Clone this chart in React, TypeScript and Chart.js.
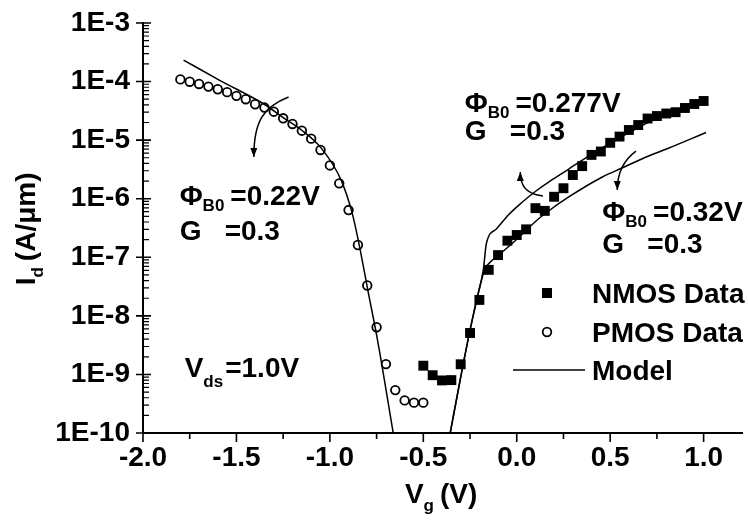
import React, { useEffect, useRef } from "react";
import { Chart, registerables } from "chart.js";

Chart.register(...registerables);

const FONT = '"Liberation Sans", Arial, Helvetica, sans-serif';
const MAIN_FONT = `bold 28px ${FONT}`;
const SUB_FONT = `bold 17px ${FONT}`;

// ---- measured transfer characteristics (Vds = 1.0 V) ----
const pmosVg = [
  -1.8, -1.75, -1.7, -1.65, -1.6, -1.55, -1.5, -1.45, -1.4, -1.35, -1.3, -1.25, -1.2, -1.15,
  -1.1, -1.05, -1.0, -0.95, -0.9, -0.85, -0.8, -0.75, -0.7, -0.65, -0.6, -0.55, -0.5,
];
const pmosId = [
  1.09e-4, 9.95e-5, 9.1e-5, 8.2e-5, 7.4e-5, 6.6e-5, 5.7e-5, 5.0e-5, 4.1e-5, 3.6e-5, 3.06e-5,
  2.36e-5, 1.89e-5, 1.45e-5, 1.06e-5, 6.8e-6, 3.7e-6, 1.83e-6, 6.4e-7, 1.62e-7, 3.3e-8, 6.4e-9,
  1.5e-9, 5.4e-10, 3.6e-10, 3.3e-10, 3.3e-10,
];

const nmosVg = [
  -0.5, -0.45, -0.4, -0.35, -0.3, -0.25, -0.2, -0.15, -0.1, -0.05, 0.0, 0.05, 0.1, 0.15, 0.2,
  0.25, 0.3, 0.35, 0.4, 0.45, 0.5, 0.55, 0.6, 0.65, 0.7, 0.75, 0.8, 0.85, 0.9, 0.95, 1.0,
];
const nmosId = [
  1.41e-9, 9.7e-10, 7.9e-10, 8.0e-10, 1.49e-9, 5.1e-9, 1.87e-8, 6.1e-8, 1.09e-7, 1.92e-7, 2.4e-7,
  3.0e-7, 6.9e-7, 6.2e-7, 1.08e-6, 1.51e-6, 2.54e-6, 3.6e-6, 5.6e-6, 6.4e-6, 9.0e-6, 1.15e-5,
  1.49e-5, 1.81e-5, 2.34e-5, 2.58e-5, 2.85e-5, 3.0e-5, 3.54e-5, 4.14e-5, 4.66e-5,
];

// ---- model curves ----
// PMOS, ΦB0 = 0.22 V, G = 0.3
const pmosModelVg = [-1.783, -1.592, -1.345, -1.248, -1.152, -1.046, -0.94, -0.882, -0.845, -0.797, -0.744, -0.661];
const pmosModelId = [2.33e-4, 1.06e-4, 3.98e-5, 2.39e-5, 1.49e-5, 7.3e-6, 2.08e-6, 5.9e-7, 1.75e-7, 2.76e-8, 3.72e-9, 1e-10];

// NMOS, ΦB0 = 0.277 V, G = 0.3
const nmosModelAVg = [
  -0.356, -0.303, -0.25, -0.206, -0.179, -0.162, -0.109, -0.045, 0.024, 0.103, 0.188, 0.278,
  0.368, 0.458, 0.596, 0.75, 0.899, 1.016,
];
const nmosModelAId = [
  1e-10, 8.0e-10, 5.7e-9, 2.43e-8, 6.1e-8, 1.75e-7, 3.04e-7, 5.27e-7, 8.45e-7, 1.355e-6, 2.09e-6,
  3.21e-6, 4.95e-6, 7.34e-6, 1.32e-5, 2.39e-5, 3.68e-5, 4.84e-5,
];

// NMOS, ΦB0 = 0.32 V, G = 0.3
const nmosModelBVg = [
  -0.356, -0.303, -0.25, -0.206, -0.172, -0.124, -0.071, 0.008, 0.103, 0.156, 0.278, 0.458, 0.569,
  0.686, 0.808, 1.013,
];
const nmosModelBId = [
  1e-10, 8.0e-10, 5.7e-9, 2.43e-8, 6.07e-8, 9.35e-8, 1.28e-7, 2.13e-7, 4.16e-7, 5.7e-7, 1.07e-6,
  2.35e-6, 3.41e-6, 5.06e-6, 7.21e-6, 1.35e-5,
];

// ---- axes ----
const xTicks = [-2.0, -1.5, -1.0, -0.5, 0.0, 0.5, 1.0];
const xMinorTicks = [-1.75, -1.25, -0.75, -0.25, 0.25, 0.75];
const yTicks = [1e-10, 1e-9, 1e-8, 1e-7, 1e-6, 1e-5, 1e-4, 1e-3];

// ---- annotations (anchors in data units) ----
const phiLabels = [
  { vg: -1.804, id: 7.8e-7, phi: "=0.22V", g: "=0.3", lineGap: 35 },
  { vg: -0.278, id: 3.0e-5, phi: "=0.277V", g: "=0.3", lineGap: 28 },
  { vg: 0.458, id: 4.2e-7, phi: "=0.32V", g: "=0.3", lineGap: 32 },
];
const vdsLabel = { vg: -1.777, id: 9.0e-10 };

// curved arrows: start, two controls, tip
const arrows: [number, number][][] = [
  [[-1.221, 5.46e-5], [-1.359, 3.68e-5], [-1.407, 2.04e-5], [-1.407, 5.15e-6]],
  [[0.14, 1.11e-6], [0.061, 1.2e-6], [0.019, 1.52e-6], [0.019, 2.86e-6]],
  [[0.638, 6.5e-6], [0.58, 4.76e-6], [0.538, 3.09e-6], [0.538, 1.41e-6]],
];

const pts = (xs: number[], ys: number[]) => xs.map((x, i) => ({ x, y: ys[i] }));

function drawSubText(ctx: CanvasRenderingContext2D, x: number, y: number, main: string, sub: string, rest: string, gap: number, subDrop: number) {
  ctx.font = MAIN_FONT;
  ctx.fillText(main, x, y);
  let cx = x + ctx.measureText(main).width;
  ctx.font = SUB_FONT;
  ctx.fillText(sub, cx, y + subDrop);
  cx += ctx.measureText(sub).width + gap;
  ctx.font = MAIN_FONT;
  ctx.fillText(rest, cx, y);
}

const decorPlugin = {
  id: "decor",
  afterDatasetsDraw(chart: any) {
    const { ctx, chartArea: a, scales } = chart;
    const xs = scales.x;
    const ys = scales.y;
    const px = (v: number) => xs.getPixelForValue(v);
    const py = (v: number) => ys.getPixelForValue(v);
    ctx.save();
    ctx.strokeStyle = "#000";
    ctx.fillStyle = "#000";
    ctx.lineCap = "butt";

    // axis lines
    ctx.lineWidth = 2;
    ctx.beginPath();
    ctx.moveTo(a.left, a.top - 1);
    ctx.lineTo(a.left, a.bottom);
    ctx.lineTo(a.right + 2, a.bottom);
    ctx.stroke();

    // x ticks (outward)
    ctx.lineWidth = 1.6;
    ctx.beginPath();
    for (const v of xTicks) {
      ctx.moveTo(px(v), a.bottom);
      ctx.lineTo(px(v), a.bottom + 9);
    }
    for (const v of xMinorTicks) {
      ctx.moveTo(px(v), a.bottom);
      ctx.lineTo(px(v), a.bottom + 6);
    }
    ctx.stroke();

    // y ticks: decades cross the axis, minor ones point inward
    ctx.beginPath();
    for (const v of yTicks) {
      ctx.moveTo(a.left - 7, py(v));
      ctx.lineTo(a.left + 8, py(v));
    }
    ctx.stroke();
    ctx.lineWidth = 1.2;
    ctx.beginPath();
    for (let e = -10; e < -3; e++) {
      for (let m = 2; m <= 9; m++) {
        const yy = py(m * Math.pow(10, e));
        ctx.moveTo(a.left, yy);
        ctx.lineTo(a.left + 6, yy);
      }
    }
    ctx.stroke();

    // axis titles
    ctx.textBaseline = "alphabetic";
    ctx.textAlign = "left";
    {
      ctx.font = MAIN_FONT;
      const w1 = ctx.measureText("V").width;
      const w3 = ctx.measureText(" (V)").width;
      ctx.font = SUB_FONT;
      const w2 = ctx.measureText("g").width;
      const total = w1 + w2 + w3;
      const cx = (a.left + a.right) / 2 - total / 2;
      drawSubText(ctx, cx, 503, "V", "g", "(V)", 6, 8);
    }
    {
      ctx.save();
      ctx.translate(35, (a.top + a.bottom) / 2);
      ctx.rotate(-Math.PI / 2);
      ctx.font = MAIN_FONT;
      const w1 = ctx.measureText("I").width;
      const w3 = ctx.measureText(" (A/μm)").width;
      ctx.font = SUB_FONT;
      const w2 = ctx.measureText("d").width;
      const total = w1 + w2 + w3;
      drawSubText(ctx, -total / 2, 0, "I", "d", "(A/μm)", 6, 8);
      ctx.restore();
    }

    // parameter labels
    for (const l of phiLabels) {
      const x0 = px(l.vg);
      const y0 = py(l.id);
      drawSubText(ctx, x0, y0, "Φ", "B0", l.phi, 6, 6);
      ctx.font = MAIN_FONT;
      ctx.fillText("G", x0, y0 + l.lineGap);
      ctx.fillText(l.g, x0 + 45, y0 + l.lineGap);
    }
    drawSubText(ctx, px(vdsLabel.vg), py(vdsLabel.id), "V", "ds", "=1.0V", 2, 10);

    // curved arrows
    ctx.lineWidth = 1.5;
    for (const arr of arrows) {
      const p = arr.map(([v, i]) => [px(v), py(i)]);
      ctx.beginPath();
      ctx.moveTo(p[0][0], p[0][1]);
      ctx.bezierCurveTo(p[1][0], p[1][1], p[2][0], p[2][1], p[3][0], p[3][1]);
      ctx.stroke();
      const ang = Math.atan2(p[3][1] - p[2][1], p[3][0] - p[2][0]);
      const L = 9, W = 3.5;
      const tx = p[3][0], ty = p[3][1];
      const bx = tx - L * Math.cos(ang), by = ty - L * Math.sin(ang);
      ctx.beginPath();
      ctx.moveTo(tx, ty);
      ctx.lineTo(bx + W * Math.sin(ang), by - W * Math.cos(ang));
      ctx.lineTo(bx - W * Math.sin(ang), by + W * Math.cos(ang));
      ctx.closePath();
      ctx.fill();
    }

    // legend
    const mx = a.left + 404;
    const tx = a.left + 449;
    ctx.fillRect(mx - 5, 288, 10, 10);
    ctx.lineWidth = 1.8;
    ctx.beginPath();
    ctx.arc(mx, 332, 4.3, 0, Math.PI * 2);
    ctx.stroke();
    ctx.lineWidth = 1.4;
    ctx.beginPath();
    ctx.moveTo(a.left + 370, 370);
    ctx.lineTo(a.left + 442, 370);
    ctx.stroke();
    ctx.font = MAIN_FONT;
    ctx.fillText("NMOS Data", tx, 303);
    ctx.fillText("PMOS Data", tx, 342);
    ctx.fillText("Model", tx, 380);

    ctx.restore();
  },
};

export default function App() {
  const canvasRef = useRef<HTMLCanvasElement>(null);

  useEffect(() => {
    const canvas = canvasRef.current;
    if (!canvas) return;
    const modelStyle = {
      type: "line" as const,
      showLine: true,
      borderColor: "#000",
      borderWidth: 1.5,
      pointRadius: 0,
      fill: false,
      cubicInterpolationMode: "monotone" as const,
      order: 2,
    };
    const chart = new Chart(canvas, {
      type: "scatter",
      data: {
        datasets: [
          {
            label: "NMOS Data",
            data: pts(nmosVg, nmosId),
            pointStyle: "rect",
            pointRadius: 7,
            backgroundColor: "#000",
            borderWidth: 0,
            order: 1,
          },
          {
            label: "PMOS Data",
            data: pts(pmosVg, pmosId),
            pointStyle: "circle",
            pointRadius: 4.3,
            backgroundColor: "rgba(0,0,0,0)",
            borderColor: "#000",
            borderWidth: 1.8,
            order: 1,
          },
          { label: "Model", data: pts(pmosModelVg, pmosModelId), ...modelStyle },
          { label: "Model 0.277", data: pts(nmosModelAVg, nmosModelAId), ...modelStyle },
          { label: "Model 0.32", data: pts(nmosModelBVg, nmosModelBId), ...modelStyle },
        ] as any,
      },
      options: {
        animation: false,
        responsive: false,
        devicePixelRatio: 1,
        events: [],
        layout: { padding: { top: 23, right: 1, left: 0, bottom: 0 } },
        plugins: { legend: { display: false }, tooltip: { enabled: false }, title: { display: false } },
        scales: {
          x: {
            type: "linear",
            min: -2,
            max: 1.2,
            afterBuildTicks: (s: any) => {
              s.ticks = xTicks.map((value) => ({ value }));
            },
            afterFit: (s: any) => {
              s.height = 98;
            },
            grid: { drawOnChartArea: false, drawTicks: true, tickLength: 8, color: "rgba(0,0,0,0)" },
            border: { display: false },
            ticks: {
              autoSkip: false,
              maxRotation: 0,
              minRotation: 0,
              padding: 0,
              color: "#000",
              font: { family: FONT, size: 28, weight: "bold" },
              callback: (v: any) => Number(v).toFixed(1),
            },
          },
          y: {
            type: "logarithmic",
            min: 1e-10,
            max: 1e-3,
            afterBuildTicks: (s: any) => {
              s.ticks = yTicks.map((value) => ({ value }));
            },
            afterFit: (s: any) => {
              s.width = 143;
            },
            grid: { drawOnChartArea: false, drawTicks: true, tickLength: 7, color: "rgba(0,0,0,0)" },
            border: { display: false },
            ticks: {
              autoSkip: false,
              padding: 6,
              color: "#000",
              font: { family: FONT, size: 28, weight: "bold" },
              callback: (v: any) => "1E" + Math.round(Math.log10(Number(v))),
            },
          },
        },
      },
      plugins: [decorPlugin],
    });
    return () => chart.destroy();
  }, []);

  return (
    <div style={{ position: "fixed", left: 0, top: 0, width: 748, height: 531, background: "#fff" }}>
      <canvas ref={canvasRef} width={748} height={531} style={{ display: "block", width: 748, height: 531 }} />
    </div>
  );
}
